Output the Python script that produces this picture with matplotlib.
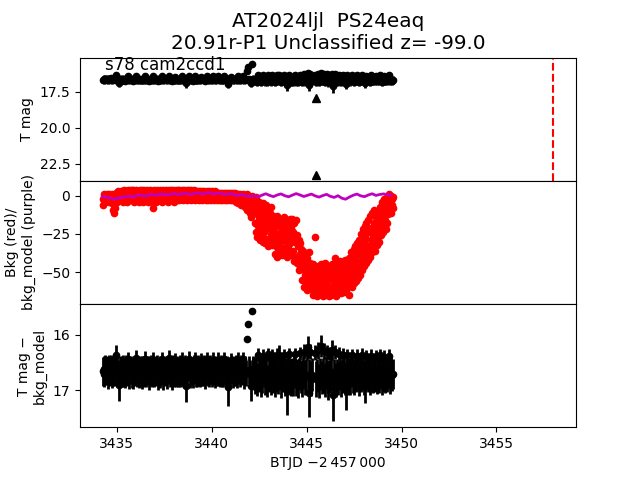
import numpy as np
import matplotlib
matplotlib.use("Agg")
import matplotlib.pyplot as plt

# ---------------- data ----------------
t_start = 3434.25      # BTJD - 2457000, first sample
cadence = 0.05         # days between magnitude samples

mag = [
    16.66, 16.62, 16.70, 16.64, 16.68, 16.60, 16.72, 16.63, 16.69, 16.58, 16.71, 16.65, 16.61, 16.67, 16.36, 16.66, 16.70, 16.90, 16.62, 16.68,
    16.64, 16.70, 16.59, 16.67, 16.73, 16.62, 16.68, 16.44, 16.71, 16.65, 16.60, 16.69, 16.74, 16.63, 16.66, 16.42, 16.70, 16.61, 16.68, 16.64,
    16.69, 16.63, 16.72, 16.60, 16.67, 16.43, 16.70, 16.65, 16.62, 16.74, 16.66, 16.59, 16.71, 16.45, 16.68, 16.64, 16.70, 16.61, 16.73, 16.66,
    16.62, 16.70, 16.66, 16.44, 16.72, 16.63, 16.68, 16.60, 16.71, 16.65, 16.42, 16.69, 16.64, 16.73, 16.61, 16.67, 16.46, 16.70, 16.63, 16.68,
    16.65, 16.71, 16.60, 16.68, 16.45, 16.66, 16.72, 16.63, 16.92, 16.69, 16.61, 16.43, 16.70, 16.64, 16.67, 16.73, 16.62, 16.44, 16.69, 16.66,
    16.70, 16.63, 16.67, 16.72, 16.46, 16.65, 16.69, 16.61, 16.74, 16.64, 16.44, 16.68, 16.71, 16.62, 16.66, 16.70, 16.45, 16.64, 16.72, 16.67,
    16.64, 16.69, 16.45, 16.66, 16.72, 16.62, 16.68, 16.70, 16.44, 16.65, 16.71, 16.63, 16.95, 16.67, 16.69, 16.46, 16.64, 16.72, 16.66, 16.61,
    16.68, 16.63, 16.71, 16.45, 16.66, 16.70, 16.62, 16.67, 16.44, 16.72, 16.65, 16.69, 16.08, 15.80, 16.64, 16.70, 16.92, 15.56, 16.66, 16.62,
    16.70, 16.76, 16.64, 16.80, 16.36, 16.72, 16.68, 16.82, 16.74, 16.38, 16.66, 16.78, 16.71, 16.84, 16.35, 16.73, 16.69, 16.79, 16.65, 16.37,
    16.75, 16.68, 16.81, 16.72, 16.36, 16.77, 16.36, 16.70, 16.83, 16.66, 16.74, 16.37, 16.79, 16.71, 17.02, 16.69, 16.35, 16.76, 16.82, 16.73,
    16.72, 16.80, 16.67, 16.35, 16.78, 16.74, 16.83, 16.70, 16.33, 16.76, 16.81, 16.68, 16.30, 16.77, 16.73, 16.32, 16.22, 17.06, 16.75, 16.30,
    16.79, 16.72, np.nan, np.nan, 16.32, 16.80, 16.74, 16.28, 16.83, 16.70, 16.20, 16.77, 16.73, 16.29, 16.81, 16.69, 16.31, 16.84, 16.75, 16.33,
    16.76, 16.70, 16.28, 17.08, 16.74, 16.31, 16.81, 16.72, 16.78, 16.34, 16.69, 16.83, 16.75, 16.36, 16.71, 16.79, 17.00, 16.73, 16.37, 16.77,
    16.71, 16.78, 16.66, 16.37, 16.74, 16.80, 16.69, 16.75, 16.38, 16.72, 16.81, 16.67, 16.76, 16.36, 16.70, 16.79, 16.93, 16.73, 16.39, 16.68,
    16.75, 16.69, 16.80, 16.38, 16.72, 16.77, 16.66, 16.74, 16.39, 16.79, 16.70, 16.76, 16.37, 16.68, 16.81, 16.73, 16.40, 16.71, 16.78, 16.67,
    16.74, 16.70, 16.38, 16.77, 16.68, 16.73, 16.71,
]

mag_err = [
    0.26, 0.24, 0.25, 0.27, 0.23, 0.22, 0.25, 0.26, 0.24, 0.21, 0.25, 0.27, 0.23, 0.26, 0.17, 0.28, 0.25, 0.30, 0.24, 0.26,
    0.25, 0.24, 0.22, 0.27, 0.23, 0.26, 0.25, 0.14, 0.26, 0.24, 0.22, 0.27, 0.23, 0.25, 0.26, 0.14, 0.24, 0.23, 0.28, 0.25,
    0.26, 0.24, 0.25, 0.22, 0.27, 0.14, 0.24, 0.26, 0.23, 0.25, 0.27, 0.22, 0.24, 0.14, 0.26, 0.25, 0.23, 0.24, 0.26, 0.25,
    0.24, 0.26, 0.25, 0.14, 0.27, 0.23, 0.25, 0.22, 0.26, 0.24, 0.14, 0.25, 0.23, 0.26, 0.24, 0.27, 0.14, 0.25, 0.24, 0.26,
    0.25, 0.24, 0.23, 0.26, 0.14, 0.25, 0.24, 0.27, 0.30, 0.25, 0.23, 0.14, 0.26, 0.24, 0.25, 0.23, 0.26, 0.14, 0.25, 0.24,
    0.24, 0.26, 0.25, 0.23, 0.14, 0.27, 0.24, 0.25, 0.23, 0.26, 0.14, 0.25, 0.24, 0.26, 0.23, 0.25, 0.14, 0.26, 0.24, 0.25,
    0.25, 0.24, 0.14, 0.26, 0.23, 0.25, 0.27, 0.24, 0.14, 0.26, 0.24, 0.25, 0.33, 0.23, 0.26, 0.14, 0.25, 0.24, 0.26, 0.23,
    0.24, 0.26, 0.25, 0.14, 0.23, 0.25, 0.26, 0.24, 0.14, 0.25, 0.26, 0.24, 0.03, 0.03, 0.25, 0.24, 0.28, 0.03, 0.26, 0.24,
    0.29, 0.31, 0.28, 0.30, 0.12, 0.32, 0.29, 0.30, 0.31, 0.12, 0.28, 0.30, 0.32, 0.29, 0.12, 0.31, 0.30, 0.29, 0.28, 0.12,
    0.30, 0.29, 0.31, 0.32, 0.12, 0.30, 0.18, 0.29, 0.31, 0.28, 0.30, 0.12, 0.31, 0.29, 0.43, 0.30, 0.12, 0.32, 0.29, 0.30,
    0.31, 0.30, 0.29, 0.12, 0.32, 0.30, 0.31, 0.29, 0.12, 0.30, 0.32, 0.29, 0.14, 0.31, 0.30, 0.13, 0.20, 0.42, 0.31, 0.14,
    0.31, 0.30, np.nan, np.nan, 0.13, 0.32, 0.30, 0.16, 0.31, 0.29, 0.20, 0.30, 0.32, 0.15, 0.31, 0.29, 0.13, 0.33, 0.30, 0.12,
    0.30, 0.31, 0.18, 0.48, 0.30, 0.13, 0.31, 0.29, 0.30, 0.12, 0.31, 0.29, 0.30, 0.12, 0.32, 0.30, 0.35, 0.29, 0.12, 0.31,
    0.29, 0.30, 0.28, 0.12, 0.31, 0.29, 0.30, 0.28, 0.12, 0.30, 0.29, 0.31, 0.28, 0.12, 0.30, 0.29, 0.30, 0.28, 0.12, 0.29,
    0.28, 0.30, 0.29, 0.12, 0.31, 0.28, 0.29, 0.30, 0.12, 0.28, 0.30, 0.29, 0.12, 0.30, 0.28, 0.29, 0.12, 0.30, 0.28, 0.29,
    0.29, 0.28, 0.12, 0.30, 0.29, 0.28, 0.27,
]

bkg_start = 3434.25
bkg_cadence = 0.025    # days between background samples
bkg = [
    -6, -2, 0, -3, 1, -1, -4, 0, -2, 1, -3, 0, -1, -4, 1, -2, 0, -3, -1, 1,
    -5, -9, -2, -11, -6, 0, -8, -3, -1, 2, -4, 0, 3, -2, 1, -3, 2, -1, 0, 3,
    -2, 3, 0, -4, 2, -1, 4, -3, 1, -2, 3, 0, -4, 4, -1, 2, -3, 1, 4, -2,
    0, 4, -3, 2, -1, 4, -4, 1, 3, -2, 0, 4, -3, 2, -1, 3, -4, 1, 4, -2,
    3, -1, 4, -3, 1, 2, -4, 4, 0, -2, 3, -3, 1, 4, -1, 2, -4, 0, 3, -2,
    4, -1, 2, -3, 0, 3, -8, -5, 1, 4, -2, 3, -4, 0, 2, 4, -3, 1, -1, 3,
    -2, 4, 0, -3, 3, 1, -4, 2, 4, -1, 0, 3, -3, 4, 1, -2, 3, -4, 2, 0,
    4, -2, 1, 3, -3, 4, 0, -1, 2, 4, -4, 1, 3, -2, 4, 0, -3, 2, 4, -1,
    2, -3, 4, 0, 3, -2, 1, 4, -1, 3, -3, 2, 4, 0, -2, 3, 1, -3, 4, 0,
    -1, 3, 1, 4, -2, 2, -3, 4, 0, 3, -2, 1, 4, -1, 2, -3, 3, 0, -2, 2,
    1, -2, 3, 0, -3, 2, 3, -1, 1, -3, 3, 0, 2, -2, 3, -1, 1, -3, 2, 0,
    3, -1, 2, -3, 0, 3, 1, -2, 2, -3, 3, 0, -1, 2, -3, 1, 3, -2, 0, 2,
    -1, 2, -3, 1, 0, 2, -2, -3, 1, 2, -1, 0, -3, 2, 1, -2, 0, 2, -3, 1,
    0, -2, 2, -3, 1, -1, 2, 0, -3, 1, 2, -2, 0, -3, 2, -1, 1, -2, 2, -3,
    1, -2, -4, 0, -1, 1, -5, -2, 0, -3, 1, -6, -1, 0, -4, -2, 1, -3, -5, 0,
    -2, -7, 0, -4, 1, -9, -3, 0, -6, -2, -11, -1, -14, -5, -8, 0, -3, -10, -1, -6,
    -3, -18, -8, -24, -1, -12, -27, -6, -20, -15, -4, -29, -10, -22, -7, -17, -26, -5, -13, -30,
    -9, -24, -15, -31, -6, -19, -28, -12, -33, -8, -21, -16, -30, -11, -25, -7, -32, -18, -27, -13,
    -14, -29, -21, -38, -17, -33, -25, -40, -13, -27, -35, -19, -31, -16, -37, -23, -28, -15, -39, -22,
    -18, -34, -26, -14, -38, -22, -30, -16, -40, -24, -33, -19, -28, -36, -15, -31, -21, -39, -17, -27,
    -15, -36, -24, -43, -18, -30, -40, -16, -27, -44, -26, -42, -33, -49, -29, -38, -47, -31, -45, -35,
    -40, -55, -36, -48, -60, -43, -52, -38, -57, -46, -62, -41, -54, -49, -61, -37, -50, -58, -44, -56,
    -47, -60, -53, -65, -45, -57, -50, -63, -27, -55, -48, -66, -52, -59, -46, -62, -54, -64, -49, -58,
    -56, -45, -63, -51, -66, -48, -59, -53, -65, -44, -57, -61, -50, -64, -47, -55, -62, -52, -66, -46,
    -60, -49, -65, -54, -45, -62, -51, -58, -64, -47, -41, -56, -66, -50, -60, -44, -57, -63, -48, -53,
    -59, -43, -55, -64, -48, -61, -52, -45, -63, -50, -57, -42, -62, -47, -54, -60, -44, -58, -51, -65,
    -41, -58, -48, -37, -55, -44, -60, -39, -51, -35, -57, -46, -33, -53, -42, -56, -31, -49, -38, -54,
    -29, -47, -36, -52, -25, -43, -33, -49, -22, -40, -30, -46, -20, -38, -27, -44, -18, -35, -24, -42,
    -16, -33, -24, -40, -13, -29, -21, -37, -11, -26, -34, -18, -9, -31, -23, -36, -14, -28, -20, -32,
    -10, -27, -17, -30, -7, -22, -14, -26, -4, -19, -12, -24, -6, -20, -2, -16, -9, -22, -3, -18,
    -1, -12, -5, -9, 1, -7, -3, -11, 0, -6, -2, -8, -1,
]

model_start = 3434.25
model_step = 0.2
bkg_model = [
    -0.5, -0.8, -1.5, -2.2, -1.6, -0.9, -0.6, -0.2, -0.8, 0.3,
    0.6, -0.2, 0.5, 1.0, 0.4, 0.9, 1.3, 0.6, 1.1, 1.6,
    0.9, 1.3, 1.8, 1.0, 1.4, 2.0, 1.2, 1.7, 2.2, 1.4,
    1.5, 1.9, 0.9, 1.1, 1.5, 0.4, 0.5, 0.9, -0.3, -0.4,
    0.2, -0.6, 0.5, 1.4, 0.3, -0.5, 0.6, 1.3, 0.1, -0.6,
    0.5, 1.5, 0.6, -0.4, 0.4, 1.2, 0.0, -0.8, 0.2, 1.0,
    -0.3, -1.0, 0.1, -1.5, -2.2, -0.8, 0.4, 1.2, 0.0, -0.5,
    0.6, 1.4, 0.3, 0.9, 1.3, 0.8, 0.5,
]

limit_t = [3445.47, 3445.47]
limit_mag = [17.92, 23.30]

discovery_t = 3458.0

title = "AT2024ljl  PS24eaq\n20.91r-P1 Unclassified z= -99.0"
label_text = "s78 cam2ccd1"

# --------------- plotting ---------------
t = t_start + cadence * np.arange(len(mag))
t_bkg = bkg_start + bkg_cadence * np.arange(len(bkg))
t_model = model_start + model_step * np.arange(len(bkg_model))
mag = np.array(mag, dtype=float)
mag_err = np.array(mag_err, dtype=float)

fig, axes = plt.subplots(3, 1, sharex=True, figsize=(6.4, 4.8), dpi=100)
fig.subplots_adjust(hspace=0)
ax0, ax1, ax2 = axes

# top panel
ax0.errorbar(t, mag, yerr=mag_err, fmt='o', color='k', ecolor='k',
             ms=4.5, elinewidth=2.0, capsize=0)
ax0.plot(limit_t, limit_mag, '^', color='k', ms=6)
ax0.axvline(discovery_t, color='r', ls='--', lw=1.5)
ax0.set_ylim(23.68, 15.14)
ax0.set_yticks([17.5, 20.0, 22.5])
ax0.set_ylabel('T mag')
ax0.set_title(title, fontsize=14.4)
ax0.text(0.05, 0.9, label_text, transform=ax0.transAxes, fontsize=12)
ax0.tick_params(axis='x', bottom=False)

# middle panel
ax1.plot(t_bkg, bkg, 'o', color='r', ms=4.5)
ax1.plot(t_model, bkg_model, '-', color='m', lw=2)
ax1.set_ylim(-71, 9.9)
ax1.set_yticks([0, -25, -50])
ax1.set_ylabel('Bkg (red)/\nbkg_model (purple)')
ax1.tick_params(axis='x', bottom=False)

# bottom panel
ax2.errorbar(t, mag, yerr=mag_err, fmt='o', color='k', ecolor='k',
             ms=4.5, elinewidth=2.0, capsize=0)
ax2.set_ylim(17.67, 15.44)
ax2.set_yticks([16, 17])
ax2.set_ylabel('T mag \u2212\nbkg_model')
ax2.set_xlabel('BTJD \u22122\u2009457\u2009000')

ax2.set_xlim(3433.06, 3459.19)
ax2.set_xticks([3435, 3440, 3445, 3450, 3455])

fig.savefig('out.png', dpi=100)
